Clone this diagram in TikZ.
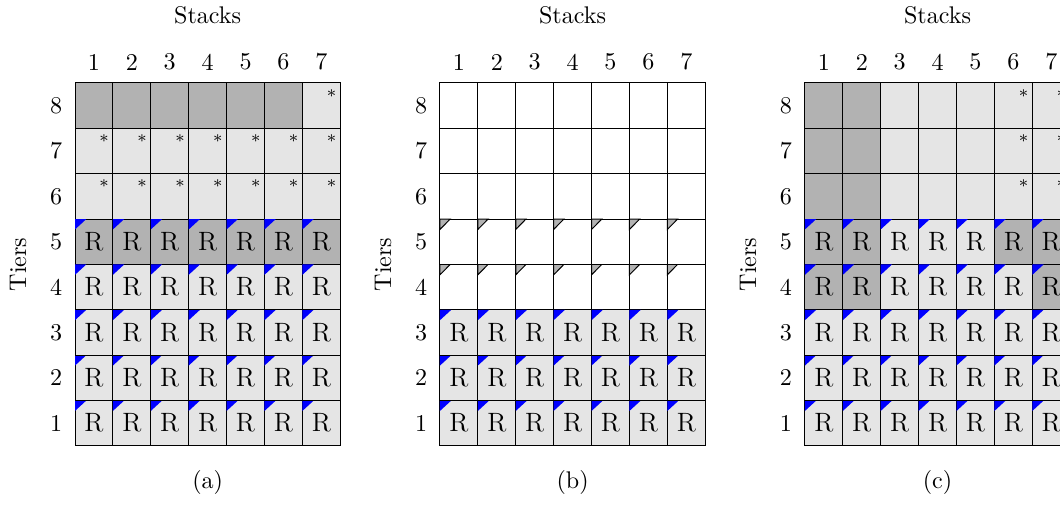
\documentclass[tikz,border=0pt]{standalone}
\usepackage{amsmath}
\usepackage{tikz}
\tikzset{every picture/.style={x=0.553cm,y=0.662cm},
  cell/.style={draw=black,line width=0.4pt},
  full/.style={cell,fill=black!30},
  light/.style={cell,fill=black!10},
  blank/.style={cell,fill=white},
  lbl/.style={inner sep=0pt},
  cont/.style={inner sep=0pt,font=\fontsize{11}{13}\selectfont},
  star/.style={inner sep=0pt,font=\scriptsize}}

% cell with a container R and the blue flag
\newcommand{\rcell}[3]{\draw[#1] (#2-1,#3-1) rectangle (#2,#3);
  \node[cont] (\pn r#2#3) at (#2-0.5,#3-0.5) {R};
  \fill[blue] (#2-1,#3) -- ++(0.3,0) -- ++(-0.3,-0.23) -- cycle;}
% cell with a star
\newcommand{\scell}[3]{\draw[#1] (#2-1,#3-1) rectangle (#2,#3);
  \node[star] (\pn s#2#3) at (#2-0.23,#3-0.227) {$*$};}
% plain cell
\newcommand{\ecell}[3]{\draw[#1] (#2-1,#3-1) rectangle (#2,#3);}
% empty cell with the grey flag
\newcommand{\gcell}[2]{\draw[blank] (#1-1,#2-1) rectangle (#1,#2);
  \draw[fill=black!30] (#1-1,#2) -- ++(0.27,0) -- ++(-0.27,-0.23) -- cycle;}
% numbers and titles of one bay
\newcommand{\bay}[1]{%
  \foreach \i in {1,...,7} \node[lbl] (#1c\i) at (\i-0.5,8.46) {\i};
  \foreach \j in {1,...,8} \node[lbl] (#1t\j) at (-0.5,\j-0.5) {\j};
  \node[lbl] (#1stacks) at (3.5,9.48) {Stacks};
  \node[lbl,rotate=90] (#1tiers) at (-1.5,4) {Tiers};
  \node[lbl] (#1cap) at (3.5,-0.81) {(#1)};}

\begin{document}
\begin{tikzpicture}
  \useasboundingbox (-1.979,-1.67) rectangle (25.99,9.828);
  \clip (-1.979,-1.67) rectangle (25.99,9.828);

  % (a)
  \begin{scope}
    \def\pn{a}
    \bay{a}
    \foreach \i in {1,...,6} \ecell{full}{\i}{8};
    \scell{light}{7}{8}
    \foreach \j in {6,7} \foreach \i in {1,...,7} \scell{light}{\i}{\j};
    \foreach \i in {1,...,7} \rcell{full}{\i}{5};
    \foreach \j in {1,...,4} \foreach \i in {1,...,7} \rcell{light}{\i}{\j};
  \end{scope}

  % (b)
  \begin{scope}[shift={(9.63,0)}]
    \def\pn{b}
    \bay{b}
    \foreach \j in {6,7,8} \foreach \i in {1,...,7} \ecell{blank}{\i}{\j};
    \foreach \j in {4,5} \foreach \i in {1,...,7} \gcell{\i}{\j};
    \foreach \j in {1,2,3} \foreach \i in {1,...,7} \rcell{light}{\i}{\j};
  \end{scope}

  % (c)
  \begin{scope}[shift={(19.26,0)}]
    \def\pn{c}
    \bay{c}
    \foreach \j in {6,7,8} {
      \ecell{full}{1}{\j} \ecell{full}{2}{\j}
      \foreach \i in {3,4,5} \ecell{light}{\i}{\j};
      \scell{light}{6}{\j} \scell{light}{7}{\j}
    }
    \rcell{full}{1}{5} \rcell{full}{2}{5}
    \foreach \i in {3,4,5} \rcell{light}{\i}{5};
    \rcell{full}{6}{5} \rcell{full}{7}{5}
    \rcell{full}{1}{4} \rcell{full}{2}{4}
    \foreach \i in {3,...,6} \rcell{light}{\i}{4};
    \rcell{full}{7}{4}
    \foreach \j in {1,2,3} \foreach \i in {1,...,7} \rcell{light}{\i}{\j};
  \end{scope}
\end{tikzpicture}
\end{document}
